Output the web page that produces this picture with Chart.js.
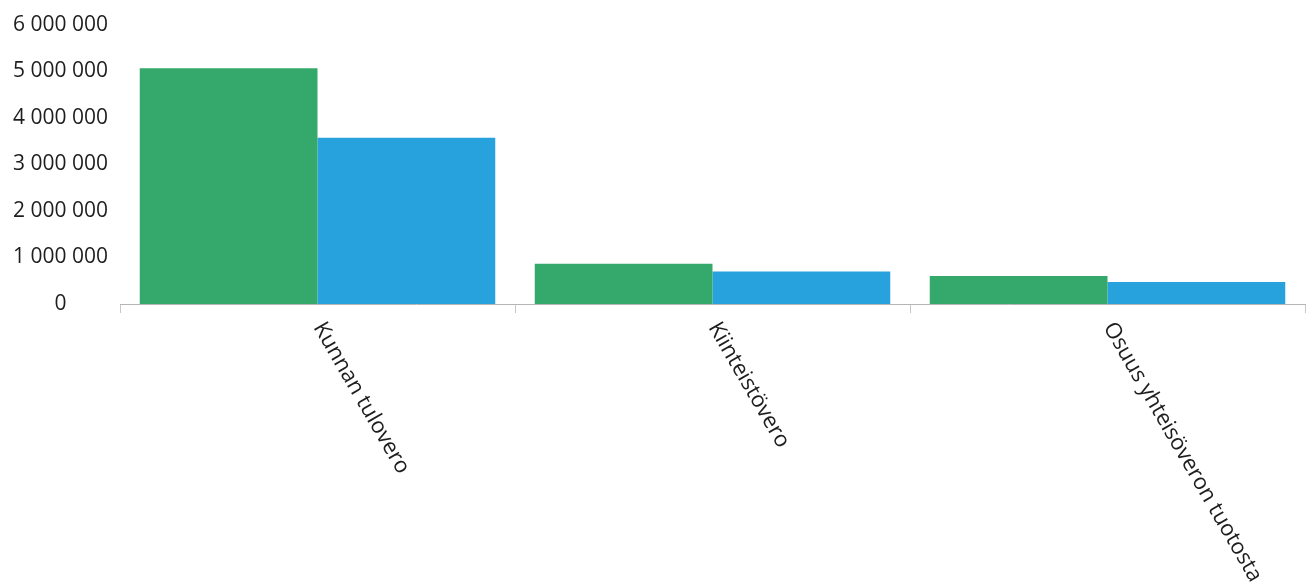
<!DOCTYPE html>
<html>
<head>
<meta charset="utf-8">
<script src="https://cdn.jsdelivr.net/npm/chart.js@4"></script>
<style>
  html, body { margin: 0; padding: 0; background: #fff; }
  #wrap { width: 1313px; height: 582px; }
</style>
</head>
<body>
<div id="wrap"><canvas id="verot"></canvas></div>
<script>
// DATA
const categories = ["Kunnan tulovero", "Kiinteistövero", "Osuus yhteisöveron tuotosta"];
const greenValues = [5060000, 865000, 600000];
const blueValues = [3570000, 700000, 470000];
const yTicks = [0, 1000000, 2000000, 3000000, 4000000, 5000000, 6000000];

const FONT = '"Open Sans", sans-serif';

function spaced(n) {
  return String(n).replace(/\B(?=(\d{3})+(?!\d))/g, " ");
}

// x labels start at the tick and run down-right, chart.js only rotates the other way
const slantLabels = {
  id: "slantLabels",
  afterDraw(chart) {
    const { ctx } = chart;
    const x = chart.scales.x;
    ctx.save();
    ctx.font = "22px " + FONT;
    ctx.fillStyle = "#1e1e1e";
    ctx.textAlign = "left";
    ctx.textBaseline = "middle";
    categories.forEach((c, i) => {
      const px = x.getPixelForValue(i);
      ctx.save();
      ctx.translate(px + 1, x.top + 20);
      ctx.rotate((60 * Math.PI) / 180);
      ctx.fillText(c, 0, 0);
      ctx.restore();
    });
    ctx.restore();
  },
};

let ctx = document.getElementById("verot").getContext("2d");
new Chart(ctx, {
  type: "bar",
  data: {
    labels: categories,
    datasets: [
      { label: "Sarja 1", data: greenValues, backgroundColor: "#35a96b" },
      { label: "Sarja 2", data: blueValues, backgroundColor: "#27a2dc" },
    ],
  },
  options: {
    responsive: true,
    maintainAspectRatio: false,
    animation: false,
    layout: { padding: { top: 23, right: 8 } },
    plugins: { legend: { display: false }, tooltip: { enabled: false } },
    datasets: { bar: { categoryPercentage: 0.9, barPercentage: 1.0 } },
    scales: {
      x: {
        ticks: { display: false },
        grid: { drawOnChartArea: false, drawTicks: true, tickLength: 9, color: "#c8c8c8" },
        border: { display: true, color: "#b5b5b5" },
        afterFit(scale) { scale.height = 278; },
      },
      y: {
        min: 0,
        max: 6000000,
        afterBuildTicks(scale) { scale.ticks = yTicks.map(v => ({ value: v })); },
        ticks: {
          padding: 12,
          crossAlign: "center",
          color: "#1e1e1e",
          font: { family: FONT, size: 21 },
          callback: v => spaced(v),
        },
        grid: { display: false, drawTicks: false },
        border: { display: false },
        afterFit(scale) { scale.width = 120; },
      },
    },
  },
  plugins: [slantLabels],
});
</script>
</body>
</html>
